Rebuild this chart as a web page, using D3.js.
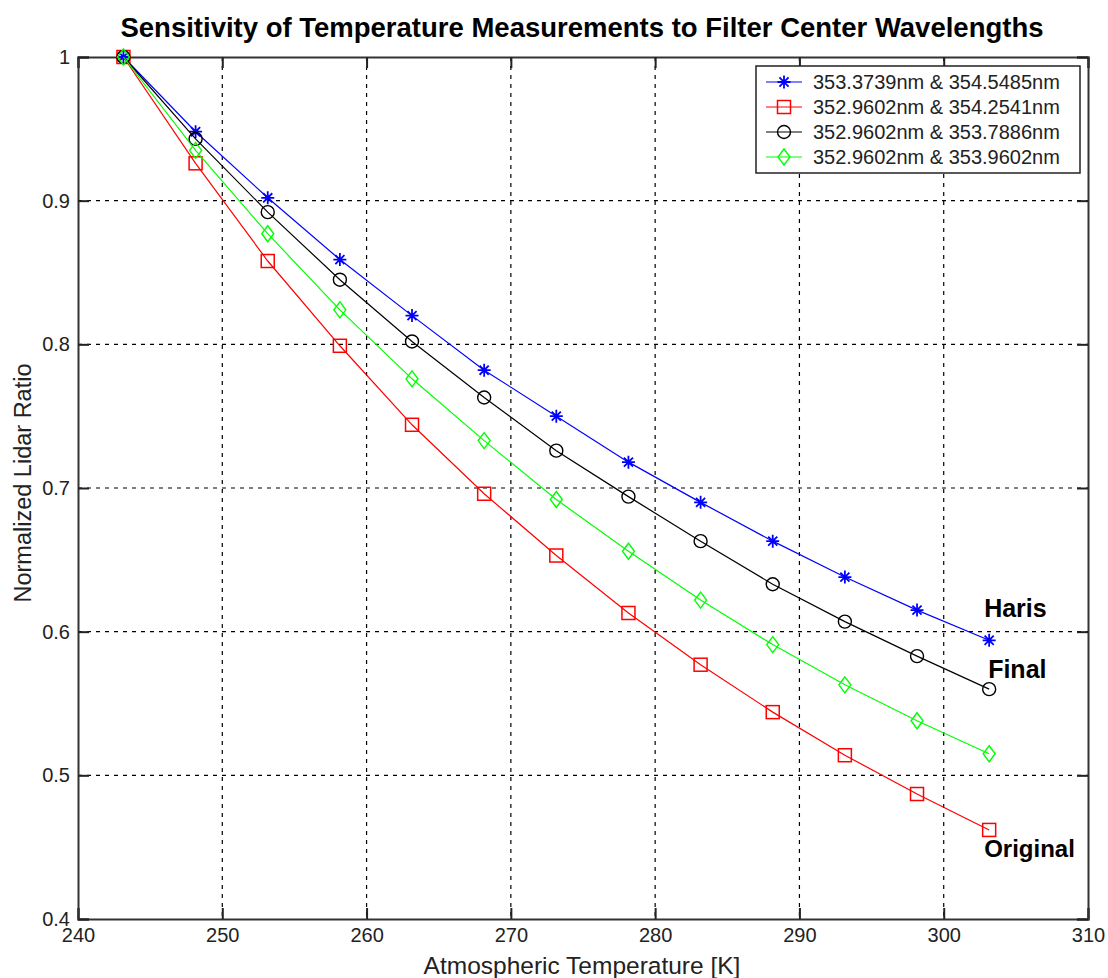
<!DOCTYPE html>
<html>
<head>
<meta charset="utf-8">
<script src="https://cdn.jsdelivr.net/npm/d3@7"></script>
<style>
  html, body { margin: 0; padding: 0; background: #fff; }
  svg { display: block; }
  text { font-family: "Liberation Sans", Arial, sans-serif; }
</style>
</head>
<body>
<svg id="chart" width="1108" height="978"></svg>
<script>
const temperatures = [243.15, 248.15, 253.15, 258.15, 263.15, 268.15, 273.15, 278.15, 283.15, 288.15, 293.15, 298.15, 303.15];
const seriesNames = ["353.3739nm & 354.5485nm", "352.9602nm & 354.2541nm", "352.9602nm & 353.7886nm", "352.9602nm & 353.9602nm"];
const haris    = [1.000, 0.948, 0.902, 0.859, 0.820, 0.782, 0.750, 0.718, 0.690, 0.663, 0.638, 0.615, 0.594];
const original = [1.000, 0.926, 0.858, 0.799, 0.744, 0.696, 0.653, 0.613, 0.577, 0.544, 0.514, 0.487, 0.462];
const final    = [1.000, 0.943, 0.892, 0.845, 0.802, 0.763, 0.726, 0.694, 0.663, 0.633, 0.607, 0.583, 0.560];
const green    = [1.000, 0.935, 0.877, 0.824, 0.776, 0.733, 0.692, 0.656, 0.622, 0.591, 0.563, 0.538, 0.515];
const seriesColors = ["#0000ff", "#ff0000", "#000000", "#00ff00"];
const seriesMarkers = ["star", "square", "circle", "diamond"];
const xTicks = [240, 250, 260, 270, 280, 290, 300, 310];
const yTicks = [0.4, 0.5, 0.6, 0.7, 0.8, 0.9, 1];
const annotations = [
  {text: "Haris", t: 303.15, v: 0.594, dx: -5, dy: -23, size: 25},
  {text: "Final", t: 303.15, v: 0.560, dx: -1, dy: -11, size: 25},
  {text: "Original", t: 303.15, v: 0.462, dx: -5, dy: 27, size: 24}
];

const series = [haris, original, final, green];

const svg = d3.select("#chart");
const L = 78, R = 1088, T = 57, B = 919;
const x = d3.scaleLinear().domain([240, 310]).range([L, R]);
const y = d3.scaleLinear().domain([0.4, 1]).range([B, T]);

// grid
const grid = svg.append("g");
grid.selectAll("line.gx").data(xTicks.slice(1, -1)).enter().append("line")
  .attr("x1", d => x(d)).attr("x2", d => x(d)).attr("y1", T).attr("y2", B)
  .attr("stroke", "#000").attr("stroke-width", 1.2).attr("stroke-dasharray", "4,5");
grid.selectAll("line.gy").data(yTicks.slice(1, -1)).enter().append("line")
  .attr("x1", L).attr("x2", R).attr("y1", d => y(d)).attr("y2", d => y(d))
  .attr("stroke", "#000").attr("stroke-width", 1.2).attr("stroke-dasharray", "4,5");

// axes (ticks inward)
const tickFont = "20px";
const xAxisB = svg.append("g").attr("transform", `translate(0,${B})`)
  .call(d3.axisBottom(x).tickValues(xTicks).tickSize(-11).tickPadding(9).tickFormat(d3.format("d")));
const xAxisT = svg.append("g").attr("transform", `translate(0,${T})`)
  .call(d3.axisTop(x).tickValues(xTicks).tickSize(-11).tickFormat(""));
const yAxisL = svg.append("g").attr("transform", `translate(${L},0)`)
  .call(d3.axisLeft(y).tickValues(yTicks).tickSize(-11).tickPadding(8).tickFormat(d => d === 1 ? "1" : d3.format(".1f")(d)));
const yAxisR = svg.append("g").attr("transform", `translate(${R},0)`)
  .call(d3.axisRight(y).tickValues(yTicks).tickSize(-11).tickFormat(""));
[xAxisB, xAxisT, yAxisL, yAxisR].forEach(g => {
  g.select(".domain").attr("stroke", "#333").attr("stroke-width", 2);
  g.selectAll(".tick line").attr("stroke", "#222").attr("stroke-width", 2);
  g.selectAll(".tick text").attr("font-size", tickFont).attr("fill", "#222")
    .attr("font-family", "'Liberation Sans', Arial, sans-serif");
});
xAxisB.selectAll(".tick text").attr("dy", "0.72em");

// lines
const line = d3.line().x((d, i) => x(temperatures[i])).y(d => y(d));
function drawMarker(g, type, cx, cy, color) {
  if (type === "star") {
    const s = 6.5;
    const p = `M${cx - s},${cy}L${cx + s},${cy}M${cx},${cy - s}L${cx},${cy + s}` +
      `M${cx - s * 0.7},${cy - s * 0.7}L${cx + s * 0.7},${cy + s * 0.7}M${cx - s * 0.7},${cy + s * 0.7}L${cx + s * 0.7},${cy - s * 0.7}`;
    g.append("path").attr("d", p).attr("stroke", color).attr("stroke-width", 1.8).attr("fill", "none");
  } else if (type === "square") {
    g.append("rect").attr("x", cx - 6.5).attr("y", cy - 6.5).attr("width", 13).attr("height", 13)
      .attr("fill", "none").attr("stroke", color).attr("stroke-width", 1.5);
  } else if (type === "circle") {
    g.append("circle").attr("cx", cx).attr("cy", cy).attr("r", 6.5)
      .attr("fill", "none").attr("stroke", color).attr("stroke-width", 1.4);
  } else if (type === "diamond") {
    g.append("path").attr("d", `M${cx},${cy - 8}L${cx + 6},${cy}L${cx},${cy + 8}L${cx - 6},${cy}Z`)
      .attr("fill", "none").attr("stroke", color).attr("stroke-width", 1.4);
  }
}
series.forEach((vals, si) => {
  const g = svg.append("g");
  g.append("path").datum(vals).attr("d", line).attr("fill", "none")
    .attr("stroke", seriesColors[si]).attr("stroke-width", 1.2);
  vals.forEach((v, i) => drawMarker(g, seriesMarkers[si], x(temperatures[i]), y(v), seriesColors[si]));
});

// annotations
annotations.forEach(a => {
  svg.append("text").attr("x", x(a.t) + a.dx).attr("y", y(a.v) + a.dy)
    .attr("font-size", a.size + "px").attr("font-weight", "bold").attr("fill", "#000").text(a.text);
});

// legend
const lg = svg.append("g");
lg.append("rect").attr("x", 756).attr("y", 66).attr("width", 324).attr("height", 107)
  .attr("fill", "#fff").attr("stroke", "#222").attr("stroke-width", 1.5);
seriesNames.forEach((name, i) => {
  const cy = 82 + i * 25;
  lg.append("line").attr("x1", 766).attr("x2", 802).attr("y1", cy).attr("y2", cy)
    .attr("stroke", seriesColors[i]).attr("stroke-width", 1.2);
  drawMarker(lg, seriesMarkers[i], 784, cy, seriesColors[i]);
  lg.append("text").attr("x", 813).attr("y", cy).attr("dy", "0.36em")
    .attr("font-size", "20px").attr("fill", "#222").text(name);
});

// title and axis labels
svg.append("text").attr("x", 582).attr("y", 37).attr("text-anchor", "middle")
  .attr("font-size", "27.5px").attr("font-weight", "bold").attr("fill", "#000")
  .text("Sensitivity of Temperature Measurements to Filter Center Wavelengths");
svg.append("text").attr("x", 582).attr("y", 974).attr("text-anchor", "middle")
  .attr("font-size", "24.5px").attr("fill", "#222").text("Atmospheric Temperature [K]");
svg.append("text").attr("transform", `translate(31,483) rotate(-90)`).attr("text-anchor", "middle")
  .attr("font-size", "23.5px").attr("fill", "#222").text("Normalized Lidar Ratio");
</script>
</body>
</html>
